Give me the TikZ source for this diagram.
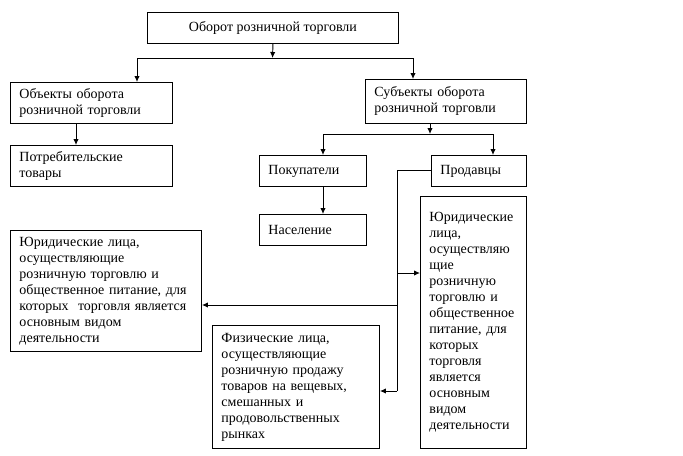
\documentclass[tikz,border=0pt]{standalone}
\usepackage{fontspec}
\setmainfont{Liberation Serif}
\usetikzlibrary{arrows.meta,calc}
\begin{document}
\begin{tikzpicture}[x=0.75pt,y=-0.75pt,
  box/.style={draw,line width=0.7pt,anchor=north west,inner xsep=6.75pt,inner ysep=0pt,
    align=left,font=\fontsize{10.5pt}{12pt}\selectfont},
  conn/.style={line width=0.7pt},
  arr/.style={line width=0.7pt,-{Latex[length=4.5pt,width=4pt]}}]
\useasboundingbox (0,0) rectangle (683,455);
\node[box,align=center,minimum width=188.25pt,minimum height=23.25pt] (top) at (147,12) {Оборот розничной торговли};
\node[box,text width=108pt,minimum height=30.75pt] (obj) at (10,82) {Объекты оборота\\розничной торговли};
\node[box,text width=107.25pt,minimum height=33pt] (sub) at (365,79) {Субъекты оборота\\розничной торговли};
\node[box,text width=108pt,minimum height=30.75pt] (pot) at (10,145) {Потребительские\\товары};
\node[box,text width=66.75pt,minimum height=23.25pt] (pok) at (259,155) {Покупатели};
\node[box,text width=57.75pt,minimum height=23.25pt] (prod) at (431,155) {Продавцы};
\node[box,text width=66.75pt,minimum height=23.25pt] (nas) at (259,214) {Население};
\node[box,text width=129.75pt,minimum height=90.75pt] (yurL) at (10,230) {Юридические лица,\\осуществляющие\\розничную торговлю и\\общественное питание, для\\которых\ \ торговля является\\основным видом\\деятельности};
\node[box,text width=111.75pt,minimum height=92.25pt] (fiz) at (212,325) {Физические лица,\\осуществляющие\\розничную продажу\\товаров на вещевых,\\смешанных и\\продовольственных\\рынках};
\node[box,text width=66pt,minimum height=189pt] (yurR) at (420,196) {Юридические\\лица,\\осуществляю\\щие\\розничную\\торговлю и\\общественное\\питание, для\\которых\\торговля\\является\\основным\\видом\\деятельности};
% top split
\coordinate (j1) at (272.5,58);
\coordinate (jl) at (137,58);
\coordinate (jr) at (413,58);
\draw[arr] (top.south) -- (j1);
\draw[conn] (jl) -- (jr);
\draw[arr] (jl) -- (jl |- obj.north);
\draw[arr] (jr) -- (jr |- sub.north);
% objects
\coordinate (c1) at (76,0);
\draw[arr] (c1 |- obj.south) -- (c1 |- pot.north);
% subjects split
\coordinate (j2) at (430,134);
\coordinate (j2l) at (323,134);
\coordinate (j2r) at (493,134);
\draw[arr] (j2 |- sub.south) -- (j2);
\draw[conn] (j2l) -- (j2r);
\draw[arr] (j2l) -- (j2l |- pok.north);
\draw[arr] (j2r) -- (j2r |- prod.north);
\draw[arr] (j2l |- pok.south) -- (j2l |- nas.north);
% sellers
\coordinate (s0) at (397,170);
\coordinate (s1) at (397,273);
\coordinate (s2) at (397,305);
\coordinate (s3) at (397,391);
\draw[conn] (prod.west |- s0) -- (s0) -- (s3);
\draw[arr] (s1) -- (s1 -| yurR.west);
\draw[arr] (s2) -- (s2 -| yurL.east);
\draw[arr] (s3) -- (s3 -| fiz.east);
\end{tikzpicture}
\end{document}
